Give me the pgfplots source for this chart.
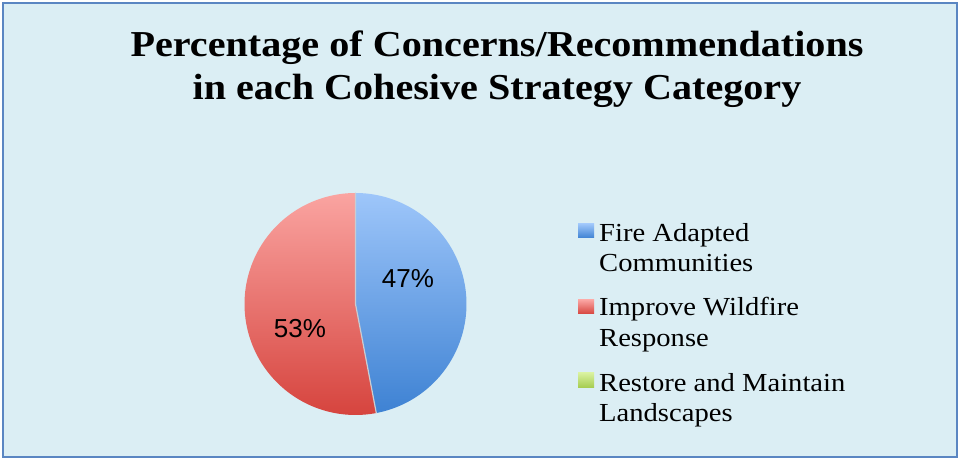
\documentclass[border=0pt]{standalone}
\usepackage{pgfplots}
\usepackage{pgfplotstable}
\pgfplotsset{compat=1.18}
\usepackage{fontspec}
\setmainfont{Liberation Serif}[FakeStretch=1.1]
\newfontfamily\arial{Liberation Sans}
\definecolor{bg}{HTML}{DBEEF4}
\definecolor{frame}{HTML}{5A86C2}
\definecolor{blueT}{HTML}{9EC6FA}
\definecolor{blueB}{HTML}{3E82D3}
\definecolor{redT}{HTML}{FAA4A1}
\definecolor{redB}{HTML}{D6443E}
\definecolor{greenT}{HTML}{D8F19E}
\definecolor{greenB}{HTML}{A4CB4D}
\definecolor{sep}{HTML}{C9CDD2}
\pgfplotstableread{
cat value
FAC 47
IWR 53
RML 0
}\piedata
\begin{document}
\begin{tikzpicture}
\pgfplotstablegetelem{0}{value}\of\piedata \let\va\pgfplotsretval
\pgfplotstablegetelem{1}{value}\of\piedata \let\vb\pgfplotsretval
\pgfmathsetmacro\aend{90-3.6*\va}
\pgfmathsetmacro\bend{\aend-3.6*\vb}
\def\cx{355.5}\def\cy{156}\def\R{111}
\pgfmathsetmacro\ex{\cx+\R*cos(\aend)}
\pgfmathsetmacro\ey{\cy+\R*sin(\aend)}
\begin{axis}[scale only axis, width=960bp, height=460bp,
  xmin=0, xmax=960, ymin=0, ymax=460, hide axis, clip=false]
\fill[white] (0,0) rectangle (960,460);
\fill[bg] (3,3) rectangle (957,457);
\draw[frame, line width=2.2bp] (3,3) rectangle (957,457);
% pie slices
\addplot[draw=none, top color=blueT, bottom color=blueB, domain=\aend:90, samples=120, variable=\t]
  ({\cx+\R*cos(t)},{\cy+\R*sin(t)}) -- (\cx,\cy) -- cycle;
\addplot[draw=none, top color=redT, bottom color=redB, domain=\bend:\aend, samples=120, variable=\t]
  ({\cx+\R*cos(t)},{\cy+\R*sin(t)}) -- (\cx,\cy) -- cycle;
\draw[sep, line width=1.2bp] (\cx,\cy+\R) -- (\cx,\cy) -- (\ex,\ey);
% labels
\node[font=\arial\fontsize{26bp}{30bp}\selectfont] at (408,181) {47\%};
\node[font=\arial\fontsize{26bp}{30bp}\selectfont] at (300,131) {53\%};
% title
\node[font=\bfseries\fontsize{36.5bp}{43bp}\selectfont, anchor=base, inner sep=0] at (497,403) {Percentage of Concerns/Recommendations};
\node[font=\bfseries\fontsize{36.5bp}{43bp}\selectfont, anchor=base, inner sep=0] at (497,360.5) {in each Cohesive Strategy Category};
% legend
\shade[top color=blueT, bottom color=blueB] (578,222) rectangle (594,236);
\shade[top color=redT, bottom color=redB] (578,146) rectangle (594,160);
\shade[top color=greenT, bottom color=greenB] (578,72) rectangle (594,87);
\begin{scope}[every node/.style={font=\fontsize{26bp}{30bp}\selectfont, anchor=base west, inner sep=0}]
\node at (599,218) {Fire Adapted};
\node at (599,188) {Communities};
\node at (599,144) {Improve Wildfire};
\node at (599,113.3) {Response};
\node at (599,68.3) {Restore and Maintain};
\node at (599,38.3) {Landscapes};
\end{scope}
\end{axis}
\end{tikzpicture}
\end{document}
